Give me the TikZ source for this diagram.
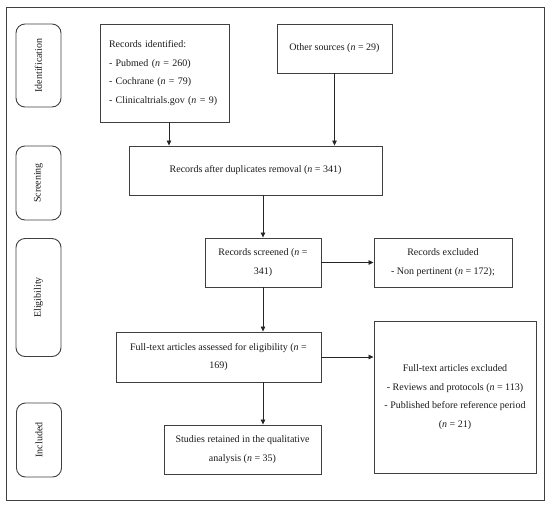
\documentclass[tikz,border=0pt]{standalone}
\usepackage{fontspec}
\setmainfont{Liberation Serif}
\usetikzlibrary{arrows.meta}
\begin{document}
\begin{tikzpicture}[x=1pt,y=-1pt,
  txt/.style={font=\fontsize{10}{18.5}\selectfont, text=black!90},
  box/.style={txt, draw=black!75, line width=0.9pt, align=center, inner sep=0pt},
  side/.style={txt, draw=black!75, line width=0.9pt, rounded corners=9pt, inner sep=0pt},
  arr/.style={-{Triangle[length=5pt,width=4.5pt]}, line width=0.8pt, draw=black!85}]
\useasboundingbox (0,0) rectangle (550,507);
\node[draw=black!75, line width=0.9pt, minimum width=538pt, minimum height=493pt, inner sep=0pt] (frame) at (275,253.5) {};
% side labels
\node[side, minimum width=45pt, minimum height=83pt] (sident) at (38.5,65.5) {\rotatebox{90}{Identification}};
\node[side, minimum width=45pt, minimum height=74pt] (sscreen) at (38.5,183) {\rotatebox{90}{Screening}};
\node[side, minimum width=45pt, minimum height=118pt] (selig) at (38.5,297.5) {\rotatebox{90}{Eligibility}};
\node[side, minimum width=45pt, minimum height=74pt] (sincl) at (39,440) {\rotatebox{90}{Included}};
% boxes
\node[box, minimum width=129pt, minimum height=98pt, align=left, text width=111pt] (ident) at (164.5,73)
  {Records identified:\\- Pubmed (\textit{n} = 260)\\- Cochrane (\textit{n} = 79)\\- Clinicaltrials.gov (\textit{n} = 9)};
\node[box, minimum width=115pt, minimum height=49pt] (other) at (334.5,48.5) {Other sources (\textit{n} = 29)};
\node[box, minimum width=253pt, minimum height=49pt] (dup) at (255.5,170.5) {Records after duplicates removal (\textit{n} = 341)};
\node[box, minimum width=116pt, minimum height=49pt] (screened) at (263,262.5) {Records screened (\textit{n} =\\341)};
\node[box, minimum width=138pt, minimum height=49pt] (excl) at (443,262.5) {Records excluded\\- Non pertinent (\textit{n} = 172);};
\node[box, minimum width=205pt, minimum height=50pt] (assessed) at (218.5,357) {Full-text articles assessed for eligibility (\textit{n} =\\169)};
\node[box, minimum width=162pt, minimum height=152pt] (ftex) at (455,397)
  {Full-text articles excluded\\- Reviews and protocols (\textit{n} = 113)\\- Published before reference period\\(\textit{n} = 21)};
\node[box, minimum width=157pt, minimum height=49pt] (retained) at (242.5,449.5) {Studies retained in the qualitative\\analysis (\textit{n} = 35)};
% arrows
\coordinate (a1) at (169,122);
\draw[arr] (a1) -- (a1 |- dup.north);
\draw[arr] (other.south) -- (other.south |- dup.north);
\draw[arr] (screened.north |- dup.south) -- (screened.north);
\draw[arr] (screened.east) -- (excl.west);
\draw[arr] (screened.south) -- (screened.south |- assessed.north);
\draw[arr] (assessed.east) -- (assessed.east -| ftex.west);
\draw[arr] (screened.south |- assessed.south) -- (screened.south |- retained.north);
\end{tikzpicture}
\end{document}
